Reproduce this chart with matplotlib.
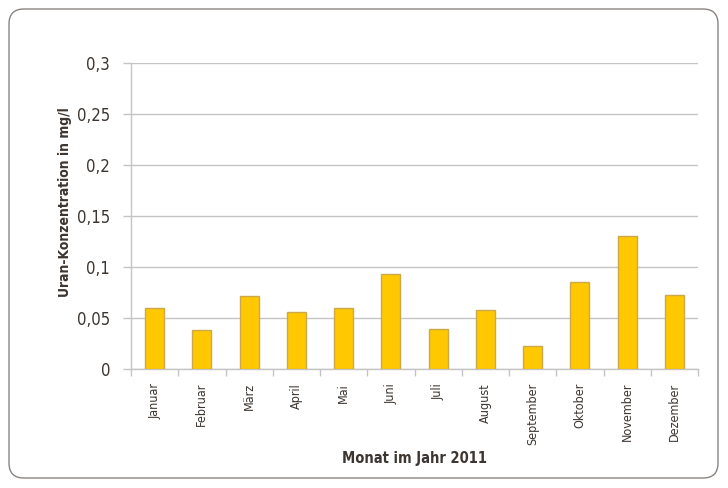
import matplotlib
matplotlib.use("Agg")
import matplotlib.pyplot as plt
from matplotlib.patches import FancyBboxPatch
from matplotlib.ticker import FixedLocator

months = ["Januar", "Februar", "März", "April", "Mai", "Juni", "Juli",
          "August", "September", "Oktober", "November", "Dezember"]
values = [0.060, 0.038, 0.072, 0.056, 0.060, 0.093, 0.039, 0.058, 0.023, 0.085, 0.130, 0.073]
yticks = [0, 0.05, 0.1, 0.15, 0.2, 0.25, 0.3]
ytick_labels = ["0", "0,05", "0,1", "0,15", "0,2", "0,25", "0,3"]

plt.rcParams['font.family'] = ['DejaVu Sans']
plt.rcParams['font.stretch'] = 'condensed'
txt = '#3c3530'
grid = '#c4c4c4'

fig = plt.figure(figsize=(7.28, 4.88), dpi=100)
fig.patch.set_facecolor('white')
border = FancyBboxPatch((0.09, 0.10), 7.09, 4.69,
                        boxstyle="round,pad=0,rounding_size=0.15",
                        transform=fig.dpi_scale_trans, facecolor='none',
                        edgecolor='#8a8480', linewidth=1.0)
fig.patches.append(border)

ax = fig.add_axes([131/728, 1 - 369/488, (698-131)/728, (369-63)/488])
x = list(range(len(months)))
ax.bar(x, values, width=0.4, color='#FFC800', edgecolor='#c9a94a', linewidth=1.0, zorder=3)
ax.set_xlim(-0.5, len(months) - 0.5)
ax.set_ylim(0, 0.3)
ax.set_yticks(yticks)
ax.set_yticklabels(ytick_labels, fontsize=12, color=txt, stretch='condensed')
ax.yaxis.grid(True, color=grid, linewidth=1.0, zorder=0)
ax.set_xticks(x)
ax.set_xticklabels(months, rotation=90, fontsize=9, color=txt, stretch='condensed')
ax.tick_params(axis='x', length=0, pad=10)
ax.xaxis.set_minor_locator(FixedLocator([i - 0.5 for i in range(len(months) + 1)]))
ax.tick_params(axis='x', which='minor', length=5, color=grid, width=1)
ax.tick_params(axis='y', length=6, color=grid, width=1, pad=9)
for s in ['top', 'right']:
    ax.spines[s].set_visible(False)
for s in ['left', 'bottom']:
    ax.spines[s].set_color(grid)
    ax.spines[s].set_linewidth(1.0)
fig.text(65/728, 1 - 202/488, "Uran-Konzentration in mg/l", rotation=90, fontsize=10,
         fontweight='bold', color=txt, stretch='condensed', ha='center', va='center')
fig.text(414/728, 1 - 459/488, "Monat im Jahr 2011", fontsize=10.5,
         fontweight='bold', color=txt, stretch='condensed', ha='center', va='center')

fig.savefig("out.png", dpi=100)
